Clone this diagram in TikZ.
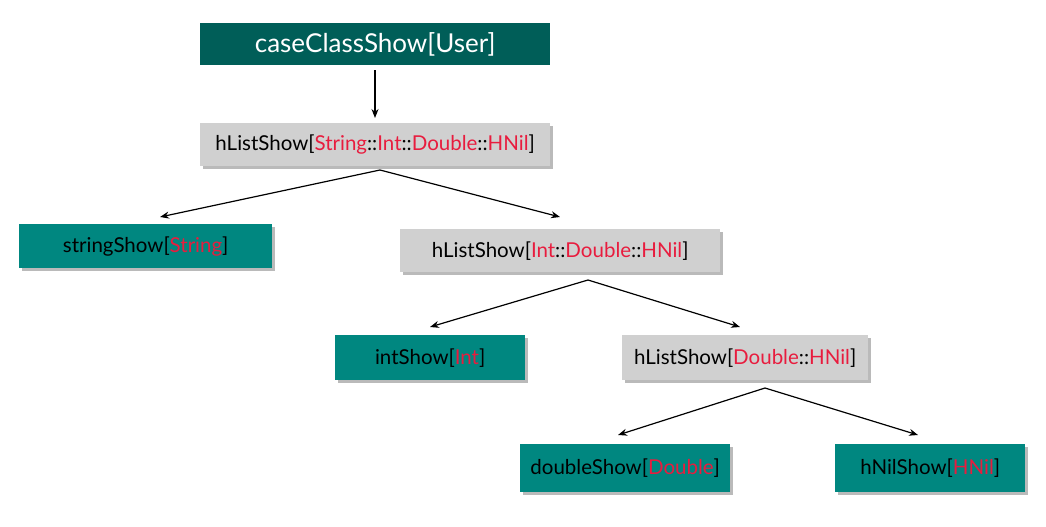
\documentclass[tikz,border=0pt]{standalone}
\usepackage{fontspec}
\setmainfont{Lato}
\usetikzlibrary{shadows,arrows.meta}
\definecolor{darkteal}{RGB}{0,94,88}
\definecolor{tealbox}{RGB}{0,135,128}
\definecolor{graybox}{RGB}{208,208,208}
\definecolor{redt}{RGB}{232,28,62}
\newcommand{\rt}[1]{\textcolor{redt}{#1}}
\begin{document}
\begin{tikzpicture}[x=1pt,y=-1pt,
  box/.style={minimum height=#1, inner sep=0pt, anchor=north west, font=\fontsize{20.5}{24}\selectfont,
    drop shadow={shadow xshift=2.5pt,shadow yshift=-3pt,opacity=0.45,fill=black!60}},
  tbox/.style={box=44pt, fill=tealbox, text=black},
  gbox/.style={box=43pt, fill=graybox, text=black},
  conn/.style={-{Stealth[length=9pt,width=7pt]}, line width=1.2pt}]
\useasboundingbox (0,0) rectangle (1046,527);
\node[anchor=north west, fill=darkteal, text=white, minimum width=350pt, minimum height=42pt, inner sep=0pt,
  font=\fontsize{26}{30}\selectfont] (top) at (200,23) {caseClassShow[User]};
\node[gbox, minimum width=350pt] (h1) at (200,123) {hListShow[\rt{String}::\rt{Int}::\rt{Double}::\rt{HNil}]};
\node[tbox, minimum width=253pt] (s) at (19,224) {stringShow[\rt{String}]};
\node[gbox, minimum width=320pt] (h2) at (400,229) {hListShow[\rt{Int}::\rt{Double}::\rt{HNil}]};
\node[tbox, minimum width=190pt, minimum height=45pt] (i) at (335,335) {intShow[\rt{Int}]};
\node[gbox, minimum width=246pt, minimum height=45pt] (h3) at (622,335) {hListShow[\rt{Double}::\rt{HNil}]};
\node[tbox, minimum width=210pt, minimum height=48pt] (d) at (520,444) {doubleShow[\rt{Double}]};
\node[tbox, minimum width=190pt, minimum height=48pt] (n) at (835,444) {hNilShow[\rt{HNil}]};
\coordinate (c1) at (380,170);
\coordinate (c2) at (588,280);
\coordinate (c3) at (765,388);
\draw[conn] ([yshift=-5pt]top.south -| 375,0) -- ([yshift=5pt]h1.north -| 375,0);
\draw[conn] (c1) -- (160,217);
\draw[conn] (c1) -- (560,217);
\draw[conn] (c2) -- (430,327);
\draw[conn] (c2) -- (740,327);
\draw[conn] (c3) -- (618,435);
\draw[conn] (c3) -- (918,435);
\end{tikzpicture}
\end{document}
